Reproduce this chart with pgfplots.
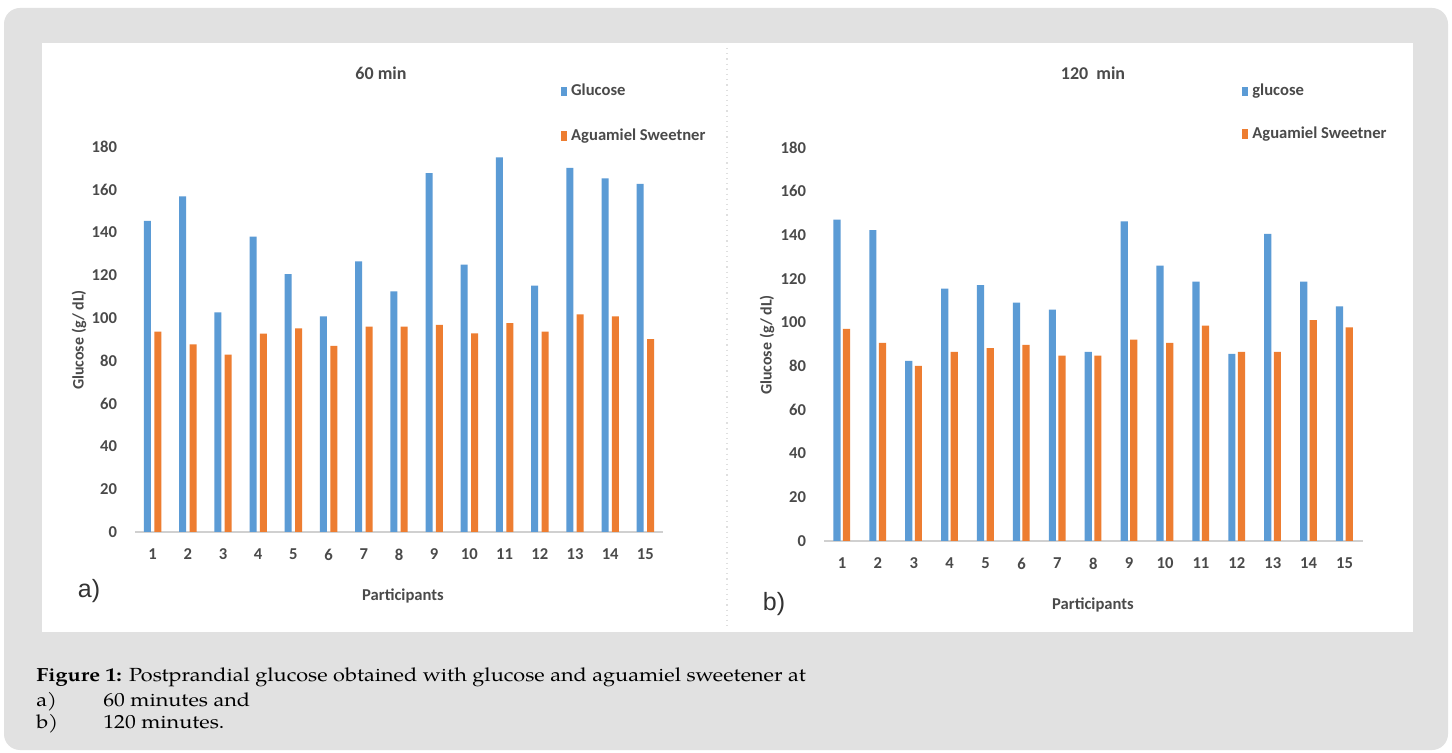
\documentclass[border=0pt]{standalone}
\usepackage{pgfplots}
\pgfplotsset{compat=1.18}
\usepackage{fontspec}
\setmainfont{Liberation Serif}
\newfontfamily\capfont{TeX Gyre Pagella}
\newfontfamily\calibri{Carlito}
\newfontfamily\arial{Liberation Sans}
\definecolor{xblue}{HTML}{5B9BD5}
\definecolor{xorange}{HTML}{ED7D31}
\definecolor{xtext}{HTML}{4A4A4A}
\definecolor{bgrey}{HTML}{E1E1E1}
\definecolor{axgrey}{HTML}{D0D0D0}

\pgfplotstableread{
p glu agu
1 145.5 93.7
2 156.9 87.7
3 102.7 82.9
4 138.1 92.7
5 120.6 95.2
6 100.8 87.0
7 126.5 96.0
8 112.5 96.0
9 167.8 96.8
10 125.0 92.9
11 175.2 97.7
12 115.2 93.7
13 170.2 101.8
14 165.3 100.8
15 162.8 90.2
}\tsixty

\pgfplotstableread{
p glu agu
1 147.0 97.0
2 142.2 90.6
3 82.4 80.1
4 115.5 86.5
5 117.1 88.2
6 109.1 89.7
7 105.9 84.8
8 86.5 84.8
9 146.3 92.1
10 126.0 90.6
11 118.7 98.5
12 85.6 86.5
13 140.5 86.5
14 118.7 101.1
15 107.4 97.8
}\tonetwenty

\pgfplotsset{
  panel/.style={
    scale only axis,
    anchor=south west,
    xmin=0.5, xmax=15.5, ymin=0, ymax=180,
    axis x line*=bottom, axis y line*=left,
    x axis line style={draw=axgrey, line width=0.6pt},
    y axis line style={draw=none},
    xtick={1,...,15}, ytick={0,20,...,180},
    major tick length=0pt,
    /pgf/number format/assume math mode=true,
    ticklabel style={font=\calibri\bfseries\fontsize{8.3}{10}\selectfont, text=xtext},
    yticklabel style={xshift=-5.5pt},
    xticklabel style={yshift=-5pt},
    legend cell align=left,
    legend style={draw=none, fill=none, font=\calibri\bfseries\fontsize{8.3}{10}\selectfont, text=xtext,
      anchor=north west, /tikz/every even column/.append style={column sep=2pt}},
    legend image code/.code={\fill[##1] (0pt,-2.4pt) rectangle (3pt,2.4pt);},
    clip=false,
  }
}

\newcommand{\captxt}[1]{\scalebox{1.14}[1]{\capfont\fontsize{9.5}{11}\selectfont #1}}

\begin{document}
\begin{tikzpicture}
\begin{scope}[x=0.5pt,y=-0.5pt]
  \fill[white] (0,0) rectangle (1452,753);
  \fill[bgrey, rounded corners=8pt] (4,8) rectangle (1448,750);
  \fill[white] (42,43) rectangle (1413,632);
  \draw[gray!25, dotted, line width=0.6pt] (727,48) -- (727,628);
\end{scope}

\begin{axis}[panel, at={(67.5pt,-266pt)}, width=264pt, height=192.5pt,
  legend style={at={(0.795,1.185)}, row sep=11pt}]
  \addplot[ybar, bar width=3.5pt, bar shift=-2.6pt, fill=xblue, draw=none] table[x=p,y=glu]{\tsixty};
  \addplot[ybar, bar width=3.5pt, bar shift=2.6pt, fill=xorange, draw=none] table[x=p,y=agu]{\tsixty};
  \legend{Glucose, Aguamiel Sweetner}
\end{axis}

\begin{axis}[panel, at={(412pt,-270.5pt)}, width=269.25pt, height=196.7pt,
  legend style={at={(0.765,1.183)}, row sep=10pt}]
  \addplot[ybar, bar width=3.6pt, bar shift=-2.5pt, fill=xblue, draw=none] table[x=p,y=glu]{\tonetwenty};
  \addplot[ybar, bar width=3.6pt, bar shift=2.3pt, fill=xorange, draw=none] table[x=p,y=agu]{\tonetwenty};
  \legend{glucose, Aguamiel Sweetner}
\end{axis}

\begin{scope}[x=0.5pt,y=-0.5pt]
  \node[font=\calibri\bfseries\fontsize{9}{11}\selectfont, text=xtext] at (381,73) {60 min};
  \node[font=\calibri\bfseries\fontsize{9}{11}\selectfont, text=xtext] at (1093,73) {120\ \ min};
  \node[font=\calibri\bfseries\fontsize{8}{10}\selectfont, text=xtext, rotate=90] at (79,340) {Glucose (g/ dL)};
  \node[font=\calibri\bfseries\fontsize{8}{10}\selectfont, text=xtext, rotate=90] at (767,345) {Glucose (g/ dL)};
  \node[font=\calibri\bfseries\fontsize{8.3}{10}\selectfont, text=xtext] at (403,596) {Participants};
  \node[font=\calibri\bfseries\fontsize{8.3}{10}\selectfont, text=xtext] at (1093,605) {Participants};
  \node[font=\arial\fontsize{12.5}{14}\selectfont, text=black!80] at (89,591) {a)};
  \node[font=\arial\fontsize{12.5}{14}\selectfont, text=black!80] at (774,604) {b)};
  \node[anchor=base west, inner sep=0pt] at (36,682) {\captxt{\textbf{Figure 1:} Postprandial glucose obtained with glucose and aguamiel sweetener at}};
  \node[anchor=base west, inner sep=0pt] at (36,706) {\captxt{a)}};
  \node[anchor=base west, inner sep=0pt] at (103,706) {\captxt{60 minutes and}};
  \node[anchor=base west, inner sep=0pt] at (36,728) {\captxt{b)}};
  \node[anchor=base west, inner sep=0pt] at (103,728) {\captxt{120 minutes.}};
\end{scope}
\end{tikzpicture}
\end{document}
